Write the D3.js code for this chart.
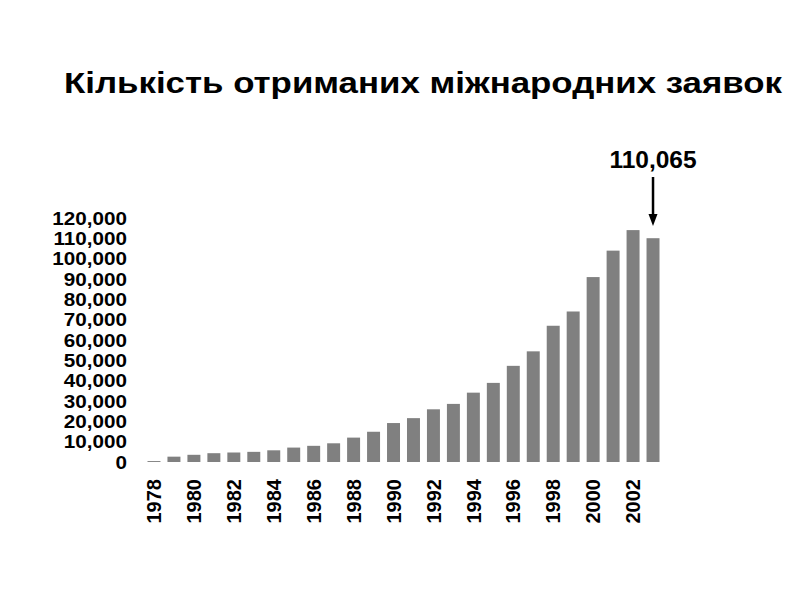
<!DOCTYPE html>
<html>
<head>
<meta charset="utf-8">
<script src="https://cdn.jsdelivr.net/npm/d3@7"></script>
<style>
  html, body { margin: 0; padding: 0; background: #fff; }
  svg { display: block; }
  text { font-family: "Liberation Sans", Arial, sans-serif; font-weight: bold; fill: #000; }
</style>
</head>
<body>
<svg id="chart" width="792" height="612"></svg>
<script>
const title = "Кількість отриманих міжнародних заявок";
const years = [1978,1979,1980,1981,1982,1983,1984,1985,1986,1987,1988,1989,1990,
               1991,1992,1993,1994,1995,1996,1997,1998,1999,2000,2001,2002,2003];
const applications = [459,2625,3539,4331,4675,4991,5751,7095,7955,9201,11996,14874,19159,
                      21570,25917,28577,34104,38906,47291,54422,67007,74023,90948,103947,114048,110065];
const yTicks = [0,10000,20000,30000,40000,50000,60000,70000,80000,90000,100000,110000,120000];
const xTickYears = [1978,1980,1982,1984,1986,1988,1990,1992,1994,1996,1998,2000,2002];
const annotation = { year: 2003, label: "110,065" };

const svg = d3.select("#chart");

const x = d3.scaleBand().domain(years).range([144, 663]).paddingInner(0.35).paddingOuter(0.175);
const y = d3.scaleLinear().domain([0, 120000]).range([462, 218]);

// Title
svg.append("text")
  .attr("x", 64).attr("y", 93)
  .attr("font-size", 29)
  .attr("textLength", 718)
  .attr("lengthAdjust", "spacingAndGlyphs")
  .text(title);

// Bars
svg.append("g").selectAll("rect")
  .data(years.map((yr, i) => ({ yr, v: applications[i] })))
  .join("rect")
  .attr("x", d => x(d.yr))
  .attr("width", x.bandwidth())
  .attr("y", d => y(d.v))
  .attr("height", d => y(0) - y(d.v))
  .attr("fill", "#808080");

// Y axis labels (wide bold glyphs, tightly stacked as in the reference)
const yAxis = d3.axisLeft(y).tickValues(yTicks).tickSize(0).tickPadding(0)
  .tickFormat(d3.format(","));
const gy = svg.append("g").attr("transform", "translate(127,0)").call(yAxis);
gy.select(".domain").remove();
gy.selectAll("text")
  .attr("font-size", 17.5)
  .attr("font-family", "Liberation Sans, Arial, sans-serif")
  .attr("font-weight", "bold")
  .attr("fill", "#000")
  .attr("dy", "0.36em")
  .each(function () {
    const w = this.getComputedTextLength();
    d3.select(this).attr("textLength", w * 1.18).attr("lengthAdjust", "spacingAndGlyphs");
  });

// X axis labels (rotated)
const xAxis = d3.axisBottom(x).tickValues(xTickYears).tickSize(0).tickPadding(0);
const gx = svg.append("g").attr("transform", "translate(0,479)").call(xAxis);
gx.select(".domain").remove();
gx.selectAll("text")
  .attr("font-size", 20)
  .attr("font-family", "Liberation Sans, Arial, sans-serif")
  .attr("font-weight", "bold")
  .attr("fill", "#000")
  .attr("text-anchor", "end")
  .attr("transform", "rotate(-90)")
  .attr("x", 0).attr("y", 0)
  .attr("dy", "0.36em");

// Annotation
const ax = x(annotation.year) + x.bandwidth() / 2;
svg.append("text")
  .attr("x", ax).attr("y", 168)
  .attr("text-anchor", "middle")
  .attr("font-size", 24.5)
  .text(annotation.label);
svg.append("line")
  .attr("x1", ax).attr("x2", ax)
  .attr("y1", 177).attr("y2", 216)
  .attr("stroke", "#000").attr("stroke-width", 2.5);
svg.append("path")
  .attr("d", `M${ax - 4.5},214 L${ax + 4.5},214 L${ax},226 Z`)
  .attr("fill", "#000");
</script>
</body>
</html>
